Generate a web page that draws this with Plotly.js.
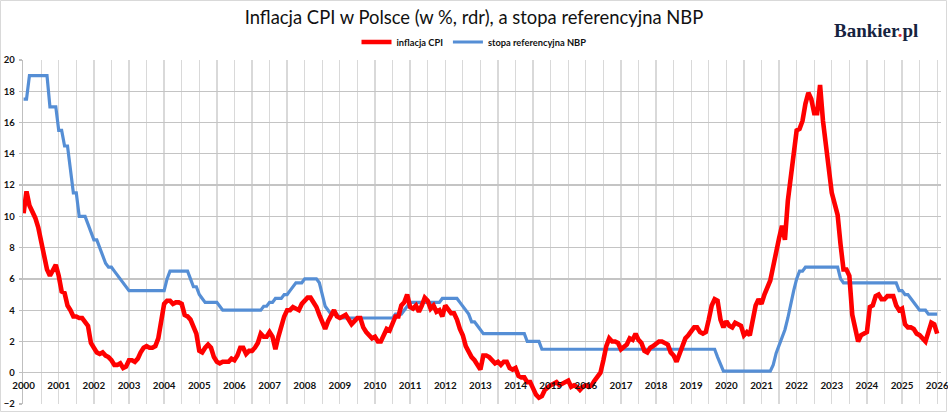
<!DOCTYPE html>
<html><head><meta charset="utf-8">
<script src="https://cdn.plot.ly/plotly-3.0.1.min.js"></script>
<style>html,body{margin:0;padding:0;background:#fff;}#chart{width:948px;height:414px;}</style>
</head><body><div id="chart"></div>
<script>
// First category is June 2000; one value per month up to June 2026.
const startYear = 2000, startMonth = 6;
const yearLabels = ['2000','2001','2002','2003','2004','2005','2006','2007','2008','2009','2010','2011','2012','2013',
  '2014','2015','2016','2017','2018','2019','2020','2021','2022','2023','2024','2025','2026'];

// CPI inflation, % y/y
const cpi = [
  10.2, 11.6, 10.7, 10.3, 9.9, 9.3, 8.5,
  7.4, 6.6, 6.2, 6.6, 6.9, 6.2, 5.2, 5.1, 4.3, 4.0, 3.6, 3.6,
  3.5, 3.5, 3.3, 3.0, 1.9, 1.6, 1.3, 1.2, 1.3, 1.1, 1.0, 0.8,
  0.5, 0.5, 0.6, 0.3, 0.4, 0.8, 0.8, 0.7, 0.9, 1.3, 1.6, 1.7,
  1.6, 1.6, 1.7, 2.2, 3.4, 4.4, 4.6, 4.6, 4.4, 4.5, 4.5, 4.4,
  3.7, 3.6, 3.4, 3.0, 2.5, 1.4, 1.3, 1.6, 1.8, 1.6, 1.0, 0.7,
  0.6, 0.7, 0.7, 0.7, 0.9, 0.8, 1.1, 1.6, 1.6, 1.2, 1.4, 1.4,
  1.6, 1.9, 2.5, 2.3, 2.3, 2.6, 2.3, 1.5, 2.3, 3.0, 3.6, 4.0,
  4.0, 4.2, 4.1, 4.0, 4.4, 4.6, 4.8, 4.8, 4.5, 4.2, 3.7, 3.3,
  2.8, 3.3, 3.6, 4.0, 3.6, 3.5, 3.6, 3.7, 3.4, 3.1, 3.3, 3.5,
  3.5, 2.9, 2.6, 2.4, 2.2, 2.3, 2.0, 2.0, 2.5, 2.8, 2.7, 3.1,
  3.6, 3.6, 4.3, 4.5, 5.0, 4.2, 4.1, 4.3, 3.9, 4.3, 4.8, 4.6,
  4.1, 4.3, 3.9, 4.0, 3.6, 4.3, 4.0, 3.8, 3.8, 3.4, 2.8, 2.4,
  1.7, 1.3, 1.0, 0.8, 0.5, 0.2, 1.1, 1.1, 1.0, 0.8, 0.6, 0.7,
  0.5, 0.7, 0.7, 0.3, 0.2, 0.3, -0.2, -0.3, -0.3, -0.6, -0.6, -1.0,
  -1.4, -1.6, -1.5, -1.1, -0.9, -0.8, -0.7, -0.6, -0.8, -0.7, -0.6, -0.5,
  -0.9, -0.8, -0.9, -1.1, -0.9, -0.8, -0.9, -0.8, -0.5, -0.2, 0.0, 0.8,
  1.7, 2.2, 2.0, 2.0, 1.9, 1.5, 1.7, 1.8, 2.2, 2.1, 2.5, 2.1,
  1.9, 1.4, 1.3, 1.6, 1.7, 1.9, 2.0, 2.0, 1.9, 1.8, 1.3, 1.1,
  0.7, 1.2, 1.7, 2.2, 2.4, 2.6, 2.9, 2.9, 2.6, 2.5, 2.6, 3.4,
  4.3, 4.7, 4.6, 3.4, 2.9, 3.3, 3.0, 2.9, 3.2, 3.1, 3.0, 2.4,
  2.6, 2.4, 3.2, 4.3, 4.7, 4.4, 5.0, 5.5, 5.9, 6.8, 7.8, 8.6,
  9.4, 8.5, 11.0, 12.4, 13.9, 15.5, 15.6, 16.1, 17.2, 17.9, 17.5, 16.6,
  16.6, 18.4, 16.1, 14.7, 13.0, 11.5, 10.8, 10.1, 8.2, 6.6, 6.6, 6.2,
  3.7, 2.8, 2.0, 2.4, 2.5, 2.6, 4.2, 4.3, 4.9, 5.0, 4.7, 4.7,
  4.9, 4.9, 4.9, 4.3, 4.0, 4.1, 3.1, 2.9, 2.9, 2.8, 2.5, 2.4,
  2.2, 2.0, 2.6, 3.2, 3.1, 2.5
];

// NBP reference rate, %
const nbpRate = [
  17.5, 17.5, 19, 19, 19, 19, 19,
  19, 19, 17, 17, 17, 15.5, 15.5, 14.5, 14.5, 13, 11.5, 11.5,
  10, 10, 10, 9.5, 9.0, 8.5, 8.5, 8.0, 7.5, 7.0, 6.75, 6.75,
  6.5, 6.25, 6.0, 5.75, 5.5, 5.25, 5.25, 5.25, 5.25, 5.25, 5.25, 5.25,
  5.25, 5.25, 5.25, 5.25, 5.25, 5.25, 6.0, 6.5, 6.5, 6.5, 6.5, 6.5,
  6.5, 6.5, 6.0, 5.5, 5.5, 5.0, 4.75, 4.5, 4.5, 4.5, 4.5, 4.5,
  4.25, 4.0, 4.0, 4.0, 4.0, 4.0, 4.0, 4.0, 4.0, 4.0, 4.0, 4.0,
  4.0, 4.0, 4.0, 4.25, 4.25, 4.5, 4.5, 4.75, 4.75, 4.75, 5.0, 5.0,
  5.25, 5.5, 5.75, 5.75, 5.75, 6.0, 6.0, 6.0, 6.0, 6.0, 5.75, 5.0,
  4.25, 4.0, 3.75, 3.75, 3.75, 3.5, 3.5, 3.5, 3.5, 3.5, 3.5, 3.5,
  3.5, 3.5, 3.5, 3.5, 3.5, 3.5, 3.5, 3.5, 3.5, 3.5, 3.5, 3.5,
  3.75, 3.75, 3.75, 4.0, 4.25, 4.5, 4.5, 4.5, 4.5, 4.5, 4.5, 4.5,
  4.5, 4.5, 4.5, 4.5, 4.75, 4.75, 4.75, 4.75, 4.75, 4.75, 4.5, 4.25,
  4.0, 3.75, 3.25, 3.25, 3.0, 2.75, 2.5, 2.5, 2.5, 2.5, 2.5, 2.5,
  2.5, 2.5, 2.5, 2.5, 2.5, 2.5, 2.5, 2.5, 2.5, 2.0, 2.0, 2.0,
  2.0, 2.0, 1.5, 1.5, 1.5, 1.5, 1.5, 1.5, 1.5, 1.5, 1.5, 1.5,
  1.5, 1.5, 1.5, 1.5, 1.5, 1.5, 1.5, 1.5, 1.5, 1.5, 1.5, 1.5,
  1.5, 1.5, 1.5, 1.5, 1.5, 1.5, 1.5, 1.5, 1.5, 1.5, 1.5, 1.5,
  1.5, 1.5, 1.5, 1.5, 1.5, 1.5, 1.5, 1.5, 1.5, 1.5, 1.5, 1.5,
  1.5, 1.5, 1.5, 1.5, 1.5, 1.5, 1.5, 1.5, 1.5, 1.5, 1.5, 1.5,
  1.5, 1.5, 1.0, 0.5, 0.1, 0.1, 0.1, 0.1, 0.1, 0.1, 0.1, 0.1,
  0.1, 0.1, 0.1, 0.1, 0.1, 0.1, 0.1, 0.1, 0.1, 0.5, 1.25, 1.75,
  2.25, 2.75, 3.5, 4.5, 5.25, 6.0, 6.5, 6.5, 6.75, 6.75, 6.75, 6.75,
  6.75, 6.75, 6.75, 6.75, 6.75, 6.75, 6.75, 6.75, 6.0, 5.75, 5.75, 5.75,
  5.75, 5.75, 5.75, 5.75, 5.75, 5.75, 5.75, 5.75, 5.75, 5.75, 5.75, 5.75,
  5.75, 5.75, 5.75, 5.75, 5.25, 5.25, 5.0, 5.0, 4.75, 4.5, 4.25, 4.0,
  4.0, 4.0, 3.75, 3.75, 3.75, 3.75
];

// month categories (labels) and their positions on the category axis
const months = cpi.map((_, i) => {
  const m = startMonth - 1 + i;
  return (startYear + Math.floor(m / 12)) + '-' + String(m % 12 + 1).padStart(2, '0');
});
const pos = months.map((_, i) => i);
const yearTickPos = yearLabels.map((_, k) => k * 12);
const halfYearPos = yearLabels.slice(0, -1).map((_, k) => k * 12 + 6);

const font = 'Lato, "Open Sans", sans-serif';

const traces = [
  {x: pos, y: nbpRate, customdata: months, name: 'stopa referencyjna NBP', type: 'scatter', mode: 'lines',
   line: {color: '#558ed5', width: 3.2}, legendrank: 2, hovertemplate: '%{customdata}: %{y}<extra></extra>'},
  {x: pos, y: cpi, customdata: months, name: 'inflacja CPI', type: 'scatter', mode: 'lines',
   line: {color: '#ff0000', width: 4.6}, legendrank: 1, hovertemplate: '%{customdata}: %{y}<extra></extra>'}
];

const L = 23, R = 7, T = 60, B = 10, W = 948, H = 414;
const pw = W - L - R, ph = H - T - B;
const px2x = p => (p - L) / pw;
const py2y = p => (H - B - p) / ph;

const layout = {
  width: W, height: H,
  margin: {l: L, r: R, t: T, b: B},
  paper_bgcolor: '#ffffff', plot_bgcolor: '#ffffff',
  title: {text: 'Inflacja CPI w Polsce (w %, rdr), a stopa referencyjna NBP',
    font: {family: font, size: 18.4, color: '#111111'},
    x: 0.5, xref: 'container', xanchor: 'center', y: 1 - 18 / H, yref: 'container', yanchor: 'middle'},
  showlegend: true,
  legend: {orientation: 'h', x: 0.5, xref: 'container', xanchor: 'center', y: 1 - 42 / H, yref: 'container',
    yanchor: 'middle', font: {family: font, size: 9.3, color: '#111111', weight: 'bold'}, itemwidth: 30,
    bgcolor: 'rgba(0,0,0,0)'},
  xaxis: {range: [-0.2, 313.3], tickmode: 'array', tickvals: yearTickPos, ticktext: yearLabels,
    showgrid: true, gridcolor: '#d9d9d9', gridwidth: 1.3,
    minor: {tickmode: 'array', tickvals: halfYearPos, showgrid: true, gridcolor: '#d9d9d9', gridwidth: 1.3, ticks: ''},
    zeroline: false, showline: false, anchor: 'free', position: 2 / 22, ticklabeloverflow: 'allow',
    ticks: 'outside', ticklen: 4, tickcolor: 'rgba(0,0,0,0)',
    tickfont: {family: font, size: 9.8, color: '#111111', weight: 'bold'}, fixedrange: true},
  yaxis: {range: [-2, 20], tickmode: 'linear', tick0: 0, dtick: 2, showgrid: true, gridcolor: '#c4c4c4', gridwidth: 1.3,
    zeroline: false, showline: true, linecolor: '#bfbfbf', linewidth: 1.3,
    ticks: 'outside', ticklen: 3, tickcolor: '#bfbfbf', tickwidth: 1.3, ticklabelstandoff: 2,
    tickfont: {family: font, size: 9.5, color: '#111111', weight: 'bold'}, fixedrange: true},
  shapes: [
    {type: 'rect', xref: 'paper', yref: 'paper', x0: px2x(0.5), x1: px2x(946.5), y0: py2y(411.5), y1: py2y(0.5),
     line: {color: '#d9d9d9', width: 1}, fillcolor: 'rgba(0,0,0,0)', layer: 'below'}
  ],
  annotations: [
    {xref: 'paper', yref: 'paper', x: px2x(876), y: py2y(30), xanchor: 'center', yanchor: 'middle', showarrow: false,
     text: 'Bankier<span style="color:#e5322d">.</span>pl',
     font: {family: '"Liberation Serif", "DejaVu Serif", serif', size: 19, color: '#16233f', weight: 'bold'}}
  ]
};

Plotly.newPlot('chart', traces, layout, {displayModeBar: false, staticPlot: true});
</script>
</body></html>
